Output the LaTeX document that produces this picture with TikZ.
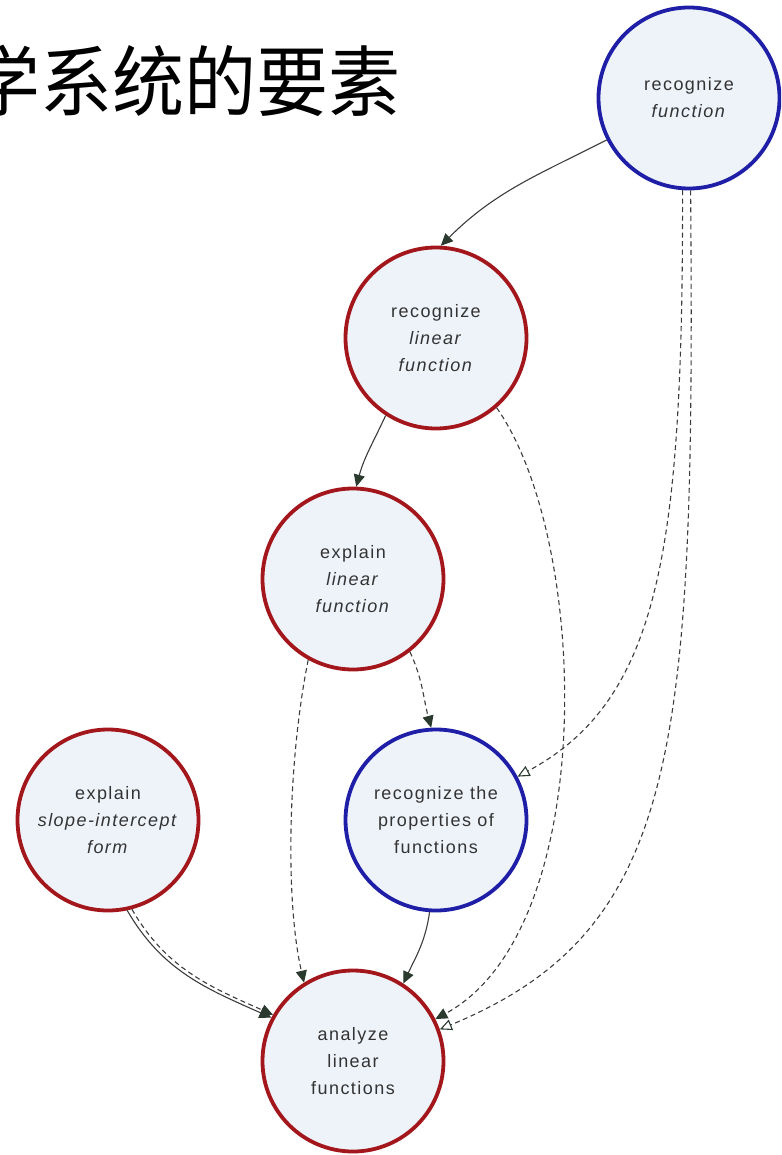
\documentclass[tikz,border=0pt]{standalone}
\usepackage{fontspec}
\usepackage{graphicx}
\usetikzlibrary{arrows.meta}
\newfontfamily\titlefont{Noto Sans CJK SC}
\newfontfamily\labelfont[LetterSpace=8]{Liberation Sans}
\definecolor{ringred}{HTML}{A3161C}
\definecolor{ringblue}{HTML}{1E1EA6}
\definecolor{disc}{HTML}{EEF3FA}
\definecolor{ink}{HTML}{333333}
\definecolor{edgegray}{HTML}{3C3C3C}
\definecolor{tipgreen}{HTML}{2A3A2E}

\begin{document}
\begin{tikzpicture}[x=1pt,y=1pt,
  concept/.style={circle, minimum size=181pt, inner sep=0pt, fill=disc,
    line width=3.8pt, align=center, text=ink,
    font=\labelfont\fontsize{18}{27}\selectfont},
  redring/.style={concept, draw=ringred},
  bluering/.style={concept, draw=ringblue},
  link/.style={draw=edgegray, line width=1.1pt,
    -{Triangle[length=12pt,width=11pt,color=tipgreen]}},
  dlink/.style={link, dash pattern=on 5pt off 3.5pt},
  dlinkopen/.style={draw=edgegray, line width=1.1pt, dash pattern=on 5pt off 3.5pt,
    -{Triangle[length=12pt,width=11pt,color=tipgreen,fill=white]}}
]
\useasboundingbox (0,0) rectangle (781,-1155);
\clip (0,0) rectangle (781,-1155);

% heading (runs off the left edge)
\node[anchor=base west, inner sep=0pt, font=\titlefont\fontsize{72}{72}\selectfont]
  (title) at (-32,-111) {\scalebox{1}[1.07]{学系统的要素}};

% concepts
\node[bluering] (RF)  at (689,-98)   {recognize\\\textit{function}};
\node[redring]  (RLF) at (436,-338)  {recognize\\\textit{linear}\\\textit{function}};
\node[redring]  (ELF) at (353,-579)  {explain\\\textit{linear}\\\textit{function}};
\node[redring]  (ESF) at (108,-820)  {explain\\\textit{slope-intercept}\\\textit{form}};
\node[bluering] (RP)  at (436,-820)  {recognize the\\properties of\\functions};
\node[redring]  (ALF) at (353,-1061) {analyze\\linear\\functions};

% prerequisite links
\draw[link] (RF.207) to[out=207,in=45] (RLF.87);
\draw[link] (RLF.237) to[out=245,in=75] (ELF.88);
\draw[dlink] (RLF.311) .. controls (590,-540) and (600,-930) .. (ALF.27);
\draw[dlinkopen] (RF.266) .. controls (683,-550) and (660,-700) .. (RP.28);
\draw[dlinkopen] (RF.271) .. controls (695,-750) and (680,-930) .. (ALF.20);
\draw[dlink] (ELF.308) to[out=295,in=105] (RP.93);
\draw[dlink] (ELF.241) .. controls (288,-760) and (285,-900) .. (ALF.122);
\draw[link] (RP.266) to[out=262,in=65] (ALF.57);
\draw[link] (ESF.282) to[out=300,in=156] (ALF.152);
\draw[dlink] (ESF.285) to[out=300,in=156] (ALF.150);
\end{tikzpicture}
\end{document}
